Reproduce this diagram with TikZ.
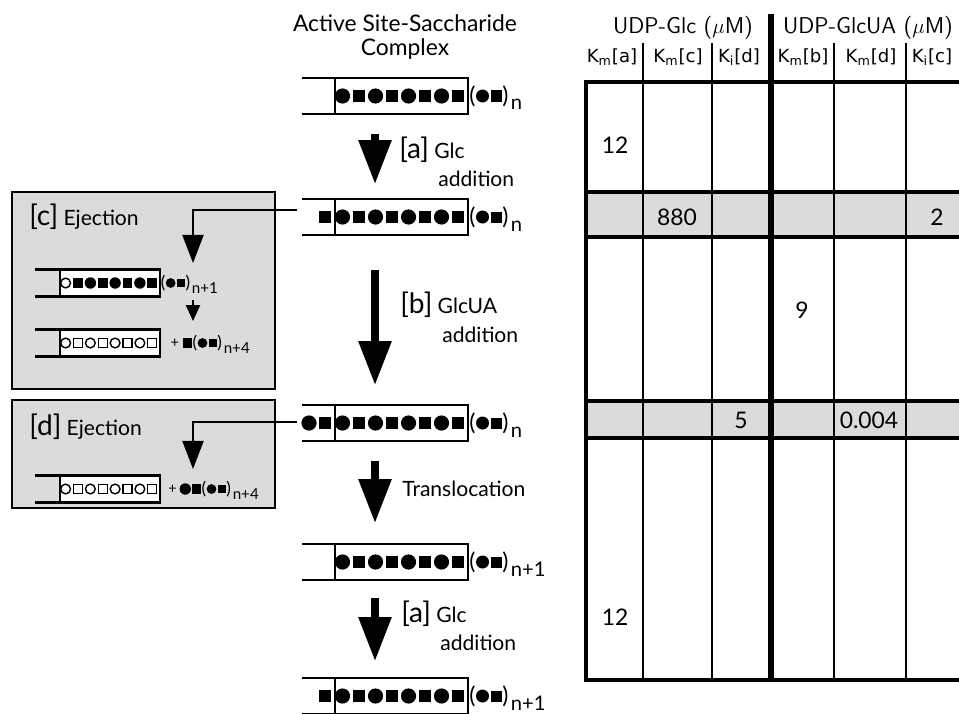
\documentclass[tikz,border=0pt]{standalone}
\usepackage{fontspec}
\setmainfont{Lato}
\newfontfamily\kfont{DejaVu Sans}
\usetikzlibrary{arrows.meta}

% beads: filled / open circle and square
\newcommand{\bc}[1]{\fill (#1,0) circle (7.6);}
\newcommand{\bs}[1]{\fill ({#1-6.4},-6.4) rectangle ({#1+6.4},6.4);}
\newcommand{\oc}[1]{\filldraw[fill=white,line width=0.8pt] (#1,0) circle (6.5);}
\newcommand{\os}[1]{\filldraw[fill=white,line width=0.8pt] ({#1-6},-6) rectangle ({#1+6},6);}
\newcommand{\brk}[1]{{\fontsize{16}{16}\selectfont[#1]}}

% the channel, the box and its chain
\newcommand{\chan}{%
  \fill[white] (0,-18) rectangle (133,18);
  \draw[chan] (-33,-18) -- (133,-18) -- (133,18) -- (-33,18);
  \draw[chan] (0,-18) -- (0,18);}
\newcommand{\fullchain}{\foreach \k in {0,...,3} {\bc{7.5+33*\k} \bs{24+33*\k}}}
\newcommand{\openchain}{\foreach \k in {0,...,3} {\oc{7.5+33*\k} \os{24+33*\k}}}
% (circle square) with subscript
\newcommand{\grp}[3]{%
  \node[paren] (#3l) at (#1,0) {(};
  \fill ({#1+10},0) circle (6.5);
  \fill ({#1+18},-5.5) rectangle ({#1+29},5.5);
  \node[paren] (#3r) at ({#1+33},0) {)};
  \node[sub] (#3s) at ({#1+38},14) {#2};}

\begin{document}
\begin{tikzpicture}[x=0.02cm, y=-0.02cm,
  chan/.style={line width=1.3pt},
  paren/.style={font=\fontsize{13}{13}\selectfont, inner sep=0pt, transform shape},
  plus/.style={font=\fontsize{11}{11}\selectfont, inner sep=0pt, transform shape},
  sub/.style={font=\fontsize{11.5}{12}\selectfont, anchor=base west, inner sep=0pt, transform shape},
  lbl/.style={font=\fontsize{12}{14}\selectfont, anchor=base west, inner sep=0pt},
  bigarr/.style={line width=4pt, -{Triangle[length=25pt, width=18pt]}},
  conn/.style={line width=1.1pt, -{Triangle[length=16pt, width=12pt]}},
  panel/.style={fill=black!14, line width=1.3pt},
  thk/.style={line width=2.6pt},
  thn/.style={line width=1.1pt},
  num/.style={font=\fontsize{13}{13}\selectfont},
  hd/.style={font=\sffamily\fontsize{13}{13}\selectfont},
  sh/.style={font=\kfont\fontsize{10.3}{11}\selectfont}
]
\useasboundingbox (0,0) rectangle (959,713);

\node[font=\fontsize{13}{14}\selectfont, align=center, anchor=north] (ttl) at (405,8) {Active Site-Saccharide\\Complex};

% main rows
\begin{scope}[shift={(335,96)}]
  \chan \fullchain \grp{137.5}{n}{g1}
  \coordinate (r1) at (0,0);
\end{scope}
\begin{scope}[shift={(335,217)}]
  \chan \fullchain \bs{-10} \grp{137.5}{n}{g2}
  \coordinate (r2) at (0,0);
\end{scope}
\begin{scope}[shift={(335,423)}]
  \chan \fullchain \bc{-26} \bs{-10} \grp{137.5}{n}{g3}
  \coordinate (r3) at (0,0);
\end{scope}
\begin{scope}[shift={(335,562)}]
  \chan \fullchain \grp{137.5}{n+1}{g4}
  \coordinate (r4) at (0,0);
\end{scope}
\begin{scope}[shift={(335,696)}]
  \chan \fullchain \bs{-10} \grp{137.5}{n+1}{g5}
  \coordinate (r5) at (0,0);
\end{scope}

% steps
\coordinate (a1t) at (375,134); \coordinate (a1h) at (375,184);
\coordinate (a2t) at (375,270); \coordinate (a2h) at (375,385);
\coordinate (a3t) at (375,461); \coordinate (a3h) at (375,523);
\coordinate (a4t) at (375,598); \coordinate (a4h) at (375,661);
\draw[bigarr] (a1t) -- (a1h);
\draw[bigarr] (a2t) -- (a2h);
\draw[bigarr] (a3t) -- (a3h);
\draw[bigarr] (a4t) -- (a4h);

\node[lbl] (la1) at (399,158) {\brk{a} Glc};
\node[lbl] (la1b) at (438,186) {addition};
\node[lbl] (lb) at (400,313) {\brk{b} GlcUA};
\node[lbl] (lbb) at (442,342) {addition};
\node[lbl] (lt) at (402,496) {Translocation};
\node[lbl] (la2) at (401,622) {\brk{a} Glc};
\node[lbl] (la2b) at (440,650) {addition};

% ejection [c]
\filldraw[panel] (12,192) rectangle (275,389);
\node[lbl] (tc) at (29,225) {\brk{c} Ejection};
\coordinate (cj) at (297,210); \coordinate (ct) at (193,263);
\draw[conn] (cj) -| (ct);
\begin{scope}[shift={(60,283)}, scale=0.75]
  \chan \oc{7.5} \bs{24}
  \foreach \k in {1,2,3} {\bc{7.5+33*\k} \bs{24+33*\k}}
  \grp{137.5}{n+1}{g6}
\end{scope}
\coordinate (s1) at (193,300); \coordinate (s2) at (193,321);
\draw[line width=1pt, -{Triangle[length=9pt, width=8pt]}] (s1) -- (s2);
\begin{scope}[shift={(60,343)}, scale=0.75]
  \chan \openchain
  \node[plus] (pc) at (153,0) {+};
  \bs{170} \grp{180}{n+4}{g7}
\end{scope}

% ejection [d]
\filldraw[panel] (12,400) rectangle (275,508);
\node[lbl] (td) at (29,435) {\brk{d} Ejection};
\coordinate (dj) at (297,422); \coordinate (dt) at (193,469);
\draw[conn] (dj) -| (dt);
\begin{scope}[shift={(60,489)}, scale=0.75]
  \chan \openchain
  \node[plus] (pd) at (150,0) {+};
  \bc{167} \bs{182} \grp{192}{n+4}{g8}
\end{scope}

% table
\fill[black!14] (586,192) rectangle (962,237);
\fill[black!14] (586,401) rectangle (962,438);
\foreach \x in {643,712,834,906} \draw[thn] (\x,43) -- (\x,680);
\draw[thk, line width=3pt] (771,14) -- (771,680);
\draw[thk] (962,82) -- (586,82) -- (586,680) -- (962,680);
\foreach \y in {192,237,401,438} \draw[thk] (586,\y) -- (962,\y);

\node[hd] (h1) at (683,28) {UDP-Glc ($\mu$M)};
\node[hd] (h2) at (868,28) {UDP-GlcUA ($\mu$M)};
\node[sh] (k1) at (612,57) {K\textsubscript{m}[a]};
\node[sh] (k2) at (678,57) {K\textsubscript{m}[c]};
\node[sh] (k3) at (739,57) {K\textsubscript{i}[d]};
\node[sh] (k4) at (803,57) {K\textsubscript{m}[b]};
\node[sh] (k5) at (871,57) {K\textsubscript{m}[d]};
\node[sh] (k6) at (932,57) {K\textsubscript{i}[c]};

\node[num] (v1) at (615,145) {12};
\node[num] (v2) at (677,217) {880};
\node[num] (v3) at (937,217) {2};
\node[num] (v4) at (802,310) {9};
\node[num] (v5) at (741,420) {5};
\node[num] (v6) at (869,420) {0.004};
\node[num] (v7) at (615,617) {12};
\end{tikzpicture}
\end{document}
